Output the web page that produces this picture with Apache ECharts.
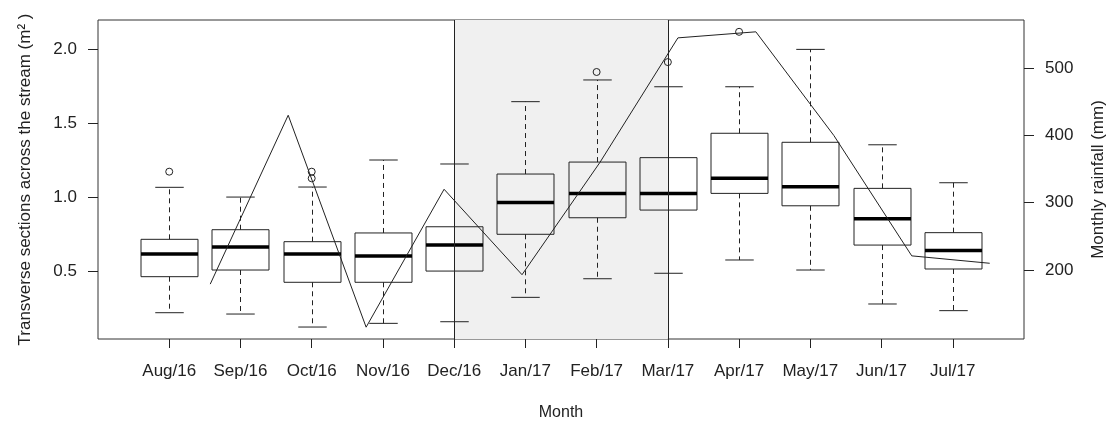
<!DOCTYPE html>
<html>
<head>
<meta charset="utf-8">
<script src="https://cdn.jsdelivr.net/npm/echarts@6/dist/echarts.min.js"></script>
<style>
  html, body { margin: 0; padding: 0; background: #fff; }
  #chart { width: 1110px; height: 421px; }
</style>
</head>
<body>
<div id="chart"></div>
<script>
// ---- data ----
const months = ['Aug/16','Sep/16','Oct/16','Nov/16','Dec/16','Jan/17','Feb/17','Mar/17','Apr/17','May/17','Jun/17','Jul/17'];
const whiskerLow  = [0.218, 0.209, 0.121, 0.146, 0.157, 0.322, 0.448, 0.485, 0.575, 0.507, 0.277, 0.232];
const quartile1   = [0.462, 0.507, 0.424, 0.424, 0.500, 0.749, 0.861, 0.913, 1.026, 0.942, 0.676, 0.514];
const medians     = [0.615, 0.663, 0.615, 0.602, 0.676, 0.965, 1.026, 1.026, 1.128, 1.071, 0.855, 0.640];
const quartile3   = [0.715, 0.780, 0.699, 0.758, 0.800, 1.157, 1.238, 1.268, 1.433, 1.372, 1.060, 0.760];
const whiskerHigh = [1.067, 1.001, 1.069, 1.252, 1.225, 1.647, 1.794, 1.748, 1.748, 2.001, 1.355, 1.098];
const outlierMonths = ['Aug/16', 'Oct/16', 'Oct/16', 'Feb/17', 'Mar/17', 'Apr/17'];
const outlierValues = [1.173, 1.173, 1.128, 1.848, 1.915, 2.120];
const rainfall = [null, 179, 430, 115, 320, 193, 360, 545, 554, 400, 221, 210]; // mm, first month missing
const shadedMonths = ['Dec/16', 'Mar/17'];
const leftTicks = [0.5, 1.0, 1.5, 2.0];
const rightTicks = [200, 300, 400, 500];

// ---- build options ----
const pos = m => months.indexOf(m) + 1;
const boxData = months.map((m, i) => [i + 1, whiskerLow[i], quartile1[i], medians[i], quartile3[i], whiskerHigh[i]]);
const outlierData = outlierMonths.map((m, i) => [pos(m), outlierValues[i]]);
const rainData = rainfall.map((v, i) => [i + 1, v]).filter(d => d[1] !== null);

const INK = '#222';
const FONT = "'Liberation Sans', Arial, sans-serif";

function renderBox(params, api) {
  const x = api.value(0);
  const pLW = api.coord([x, api.value(1)]);
  const pQ1 = api.coord([x, api.value(2)]);
  const pMd = api.coord([x, api.value(3)]);
  const pQ3 = api.coord([x, api.value(4)]);
  const pUW = api.coord([x, api.value(5)]);
  const half = api.size([0.4, 0])[0];
  const sHalf = api.size([0.2, 0])[0];
  const cx = Math.round(pMd[0]) + 0.5;
  const st = { stroke: INK, lineWidth: 1, fill: null };
  const dash = { stroke: INK, lineWidth: 1, lineDash: [5, 4] };
  return {
    type: 'group',
    children: [
      { type: 'line', shape: { x1: cx, y1: pQ3[1], x2: cx, y2: pUW[1] }, style: dash },
      { type: 'line', shape: { x1: cx, y1: pQ1[1], x2: cx, y2: pLW[1] }, style: dash },
      { type: 'line', shape: { x1: cx - sHalf, y1: pUW[1], x2: cx + sHalf, y2: pUW[1] }, style: st },
      { type: 'line', shape: { x1: cx - sHalf, y1: pLW[1], x2: cx + sHalf, y2: pLW[1] }, style: st },
      { type: 'rect', shape: { x: cx - half, y: pQ3[1], width: 2 * half, height: pQ1[1] - pQ3[1] }, style: st },
      { type: 'line', shape: { x1: cx - half, y1: pMd[1], x2: cx + half, y2: pMd[1] }, style: { stroke: '#000', lineWidth: 3.5 } }
    ]
  };
}

function renderOutlier(params, api) {
  const p = api.coord([api.value(0), api.value(1)]);
  return { type: 'circle', shape: { cx: p[0], cy: p[1], r: 3.5 }, style: { fill: null, stroke: INK, lineWidth: 1 } };
}

const chart = echarts.init(document.getElementById('chart'), null, { renderer: 'canvas' });
chart.setOption({
  animation: false,
  backgroundColor: '#fff',
  textStyle: { fontFamily: FONT },
  grid: {
    left: 98, right: 86, top: 20, bottom: 82,
    show: true, borderColor: '#333', borderWidth: 1, backgroundColor: 'transparent',
    outerBoundsMode: 'none', containLabel: false
  },
  xAxis: [
    {
      type: 'value', min: 0, max: 13, position: 'bottom',
      name: 'Month', nameLocation: 'middle', nameGap: 66,
      nameTextStyle: { fontSize: 16, color: INK, fontFamily: FONT },
      axisLine: { show: false },
      axisTick: { show: true, length: 9, customValues: months.map((m, i) => i + 1), lineStyle: { color: INK } },
      axisLabel: {
        customValues: months.map((m, i) => i + 1), margin: 24,
        formatter: v => months[Math.round(v) - 1] || '', fontSize: 17, color: INK, fontFamily: FONT
      },
      splitLine: { show: false }
    },
    {
      type: 'value', min: 0.56, max: 12.44, show: false
    }
  ],
  yAxis: [
    {
      type: 'value', min: 0.04, max: 2.2, position: 'left',
      name: 'Transverse sections across the stream (m² )', nameLocation: 'middle', nameGap: 64, nameRotate: 90,
      nameTextStyle: { fontSize: 17, color: INK, fontFamily: FONT },
      axisLine: { show: false },
      axisTick: { show: true, length: 10, customValues: leftTicks, lineStyle: { color: INK } },
      axisLabel: { customValues: leftTicks, margin: 21, formatter: v => v.toFixed(1), fontSize: 17, color: INK, fontFamily: FONT },
      splitLine: { show: false }
    },
    {
      type: 'value', min: 97.44, max: 571.56, position: 'right',
      name: 'Monthly rainfall (mm)', nameLocation: 'middle', nameGap: 66, nameRotate: 90,
      nameTextStyle: { fontSize: 17, color: INK, fontFamily: FONT },
      axisLine: { show: false },
      axisTick: { show: true, length: 10, customValues: rightTicks, lineStyle: { color: INK } },
      axisLabel: { customValues: rightTicks, margin: 21, formatter: v => String(v), fontSize: 17, color: INK, fontFamily: FONT },
      splitLine: { show: false }
    }
  ],
  series: [
    {
      type: 'line', xAxisIndex: 0, yAxisIndex: 0, data: [], z: 1, silent: true,
      markArea: {
        silent: true,
        itemStyle: { color: '#f0f0f0' },
        data: [[{ xAxis: pos(shadedMonths[0]) }, { xAxis: pos(shadedMonths[1]) }]]
      },
      markLine: {
        silent: true, symbol: 'none', label: { show: false },
        lineStyle: { color: INK, width: 1, type: 'solid' },
        data: [{ xAxis: pos(shadedMonths[0]) }, { xAxis: pos(shadedMonths[1]) }]
      }
    },
    {
      type: 'custom', xAxisIndex: 0, yAxisIndex: 0, z: 3, silent: true,
      renderItem: renderBox, data: boxData, encode: { x: 0, y: [1, 2, 3, 4, 5] }
    },
    {
      type: 'custom', xAxisIndex: 0, yAxisIndex: 0, z: 3, silent: true,
      renderItem: renderOutlier, data: outlierData, encode: { x: 0, y: 1 }
    },
    {
      type: 'line', xAxisIndex: 1, yAxisIndex: 1, z: 4, silent: true,
      data: rainData, symbol: 'none', lineStyle: { color: INK, width: 1 }
    }
  ]
});
</script>
</body>
</html>
